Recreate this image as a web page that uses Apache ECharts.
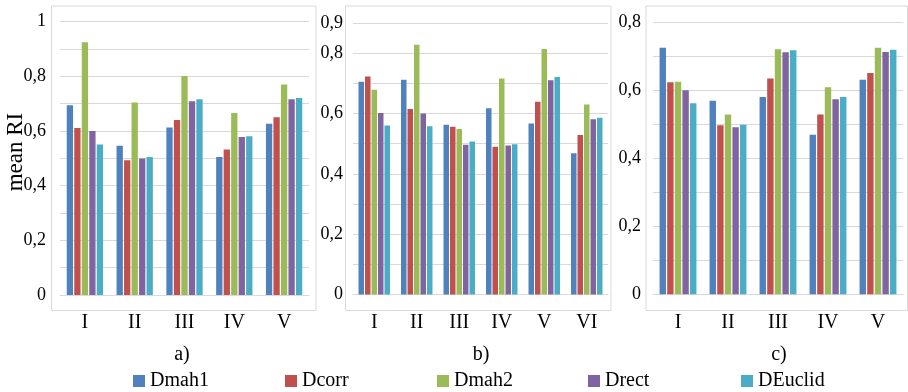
<!DOCTYPE html>
<html>
<head>
<meta charset="utf-8">
<script src="https://cdn.jsdelivr.net/npm/echarts@6/dist/echarts.min.js"></script>
<style>html,body{margin:0;padding:0;background:#fff}#c{width:908px;height:392px}</style>
</head>
<body>
<div id="c"></div>
<script>
const seriesNames = ['Dmah1','Dcorr','Dmah2','Drect','DEuclid'];
const colors = ['#4F81BD','#C0504D','#9BBB59','#8064A2','#4BACC6'];

const catsA = ['I','II','III','IV','V'];
const catsB = ['I','II','III','IV','V','VI'];
const catsC = ['I','II','III','IV','V'];

const ticksA = [0,0.2,0.4,0.6,0.8,1];
const ticksB = [0,0.2,0.4,0.6,0.8,0.9];
const ticksC = [0,0.2,0.4,0.6,0.8];

// panel a
const dmah1A   = [0.694,0.546,0.613,0.505,0.627];
const dcorrA   = [0.611,0.493,0.640,0.532,0.650];
const dmah2A   = [0.925,0.704,0.801,0.666,0.770];
const drectA   = [0.600,0.499,0.709,0.578,0.716];
const deuclidA = [0.551,0.505,0.716,0.581,0.721];
// panel b
const dmah1B   = [0.705,0.712,0.563,0.617,0.567,0.468];
const dcorrB   = [0.723,0.615,0.556,0.490,0.639,0.529];
const dmah2B   = [0.679,0.828,0.549,0.716,0.814,0.630];
const drectB   = [0.602,0.600,0.496,0.494,0.710,0.581];
const deuclidB = [0.560,0.558,0.507,0.498,0.721,0.586];
// panel c
const dmah1C   = [0.725,0.569,0.580,0.469,0.631];
const dcorrC   = [0.624,0.497,0.635,0.529,0.651];
const dmah2C   = [0.625,0.529,0.721,0.609,0.725];
const drectC   = [0.600,0.491,0.712,0.574,0.713];
const deuclidC = [0.562,0.499,0.718,0.580,0.719];

const dataA = [dmah1A,dcorrA,dmah2A,drectA,deuclidA];
const dataB = [dmah1B,dcorrB,dmah2B,drectB,deuclidB];
const dataC = [dmah1C,dcorrC,dmah2C,drectC,deuclidC];

const FONT = '"Liberation Serif", "Times New Roman", serif';
const GRID_COLOR = '#d9d9d9';

function fmt(ticks){
  return function(v){
    const r = Math.round(v*10)/10;
    if (!ticks.some(t => Math.abs(t-r) < 1e-6)) return '';
    if (r === 0) return '0';
    if (r === 1) return '1';
    return r.toFixed(1).replace('.', ',');
  };
}

function yAxis(idx, max, ticks, margin){
  return {
    type:'value', gridIndex: idx, min:0, max:max, interval:0.1,
    axisLine:{show:false}, axisTick:{show:false},
    splitLine:{lineStyle:{color:GRID_COLOR, width:1}},
    axisLabel:{formatter: fmt(ticks), fontFamily:FONT, fontSize:18, color:'#000', margin:margin}
  };
}
function xAxis(idx, cats){
  return {
    type:'category', gridIndex: idx, data: cats,
    axisLine:{show:true, lineStyle:{color:GRID_COLOR}}, axisTick:{show:false},
    axisLabel:{fontFamily:FONT, fontSize:20, color:'#000', margin:18}
  };
}

const series = [];
function addSeries(idx, data, bw, gap, catGap){
  data.forEach((d, i) => {
    series.push({
      type:'bar', name: seriesNames[i], xAxisIndex: idx, yAxisIndex: idx,
      data: d, barWidth: bw, barGap: gap, barCategoryGap: catGap,
      itemStyle:{color: colors[i]}, silent:true, animation:false
    });
  });
}
addSeries(0, dataA, 6.3, '19%', '27%');
addSeries(1, dataB, 5.5, '18%', '26%');
addSeries(2, dataC, 6.4, '19%', '26%');

function box(x1, x2){
  return {type:'rect', shape:{x:x1, y:6, width:x2-x1, height:304.5},
    style:{fill:'none', stroke:GRID_COLOR, lineWidth:1}, silent:true, z:-1};
}
function txt(x, y, s, size, rot){
  return {type:'text', x:x, y:y, rotation: rot||0,
    style:{text:s, font: size+'px '+FONT, fill:'#000', align:'center', verticalAlign:'middle'}, silent:true};
}

const legendLefts = [133, 285, 437, 588, 741];
const legends = seriesNames.map((n, i) => ({
  data:[n], left: legendLefts[i], top:371, padding:0, icon:'rect',
  itemWidth:12, itemHeight:12, itemGap:5, selectedMode:false,
  textStyle:{fontFamily:FONT, fontSize:20, color:'#000'}
}));

const option = {
  animation:false,
  color: colors,
  grid:[
    {left:60, top:21.7, width:249, height:273.3},
    {left:353, top:23, width:255, height:271.5},
    {left:653, top:22.3, width:250, height:272}
  ],
  xAxis:[xAxis(0,catsA), xAxis(1,catsB), xAxis(2,catsC)],
  yAxis:[yAxis(0,1,ticksA,14), yAxis(1,0.9,ticksB,10), yAxis(2,0.8,ticksC,12)],
  legend: legends,
  graphic:[
    box(51.5,316), box(345.5,611), box(646,907.5),
    txt(16,152,'mean RI',23,Math.PI/2),
    txt(182,355,'a)',20), txt(481,355,'b)',20), txt(779,355,'c)',20)
  ],
  series: series
};

const chart = echarts.init(document.getElementById('c'), null, {renderer:'canvas'});
chart.setOption(option);
</script>
</body>
</html>
